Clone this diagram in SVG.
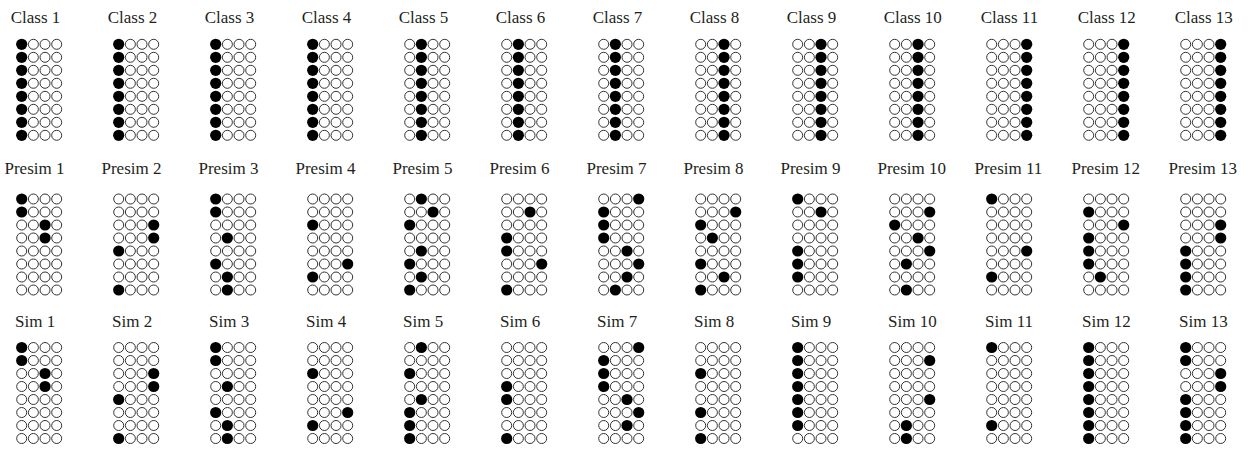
<svg xmlns="http://www.w3.org/2000/svg" width="1253" height="451" viewBox="0 0 1253 451" font-family="'Liberation Serif', 'Times New Roman', 'DejaVu Serif', serif">
<style>
text{font-family:'Liberation Serif','Times New Roman','DejaVu Serif',serif;font-size:17px;fill:#231f20}
.e{fill:#fff;stroke:#333;stroke-width:1}
.f{fill:#000}
</style>
<defs>
<circle id="o" class="e" r="5"/>
<circle id="x" class="f" r="5.6"/>
<g id="rn"><use href="#o"/><use href="#o" x="11.67"/><use href="#o" x="23.33"/><use href="#o" x="35"/></g>
<g id="r0"><use href="#x"/><use href="#o" x="11.67"/><use href="#o" x="23.33"/><use href="#o" x="35"/></g>
<g id="r1"><use href="#o"/><use href="#x" x="11.67"/><use href="#o" x="23.33"/><use href="#o" x="35"/></g>
<g id="r2"><use href="#o"/><use href="#o" x="11.67"/><use href="#x" x="23.33"/><use href="#o" x="35"/></g>
<g id="r3"><use href="#o"/><use href="#o" x="11.67"/><use href="#o" x="23.33"/><use href="#x" x="35"/></g>
<g id="c0"><use href="#r0"/><use href="#r0" y="13"/><use href="#r0" y="26"/><use href="#r0" y="39"/><use href="#r0" y="52"/><use href="#r0" y="65"/><use href="#r0" y="78"/><use href="#r0" y="91"/></g>
<g id="c1"><use href="#r1"/><use href="#r1" y="13"/><use href="#r1" y="26"/><use href="#r1" y="39"/><use href="#r1" y="52"/><use href="#r1" y="65"/><use href="#r1" y="78"/><use href="#r1" y="91"/></g>
<g id="c2"><use href="#r2"/><use href="#r2" y="13"/><use href="#r2" y="26"/><use href="#r2" y="39"/><use href="#r2" y="52"/><use href="#r2" y="65"/><use href="#r2" y="78"/><use href="#r2" y="91"/></g>
<g id="c3"><use href="#r3"/><use href="#r3" y="13"/><use href="#r3" y="26"/><use href="#r3" y="39"/><use href="#r3" y="52"/><use href="#r3" y="65"/><use href="#r3" y="78"/><use href="#r3" y="91"/></g>
</defs>
<g id="connectors"/>

<g id="class-1"><text x="10.7" y="23">Class 1</text><use href="#c0" x="21.7" y="44.3"/></g>
<g id="class-2"><text x="107.7" y="23">Class 2</text><use href="#c0" x="118.7" y="44.3"/></g>
<g id="class-3"><text x="204.7" y="23">Class 3</text><use href="#c0" x="215.7" y="44.3"/></g>
<g id="class-4"><text x="301.7" y="23">Class 4</text><use href="#c0" x="312.7" y="44.3"/></g>
<g id="class-5"><text x="398.7" y="23">Class 5</text><use href="#c1" x="409.7" y="44.3"/></g>
<g id="class-6"><text x="495.7" y="23">Class 6</text><use href="#c1" x="506.7" y="44.3"/></g>
<g id="class-7"><text x="592.7" y="23">Class 7</text><use href="#c1" x="603.7" y="44.3"/></g>
<g id="class-8"><text x="689.7" y="23">Class 8</text><use href="#c2" x="700.7" y="44.3"/></g>
<g id="class-9"><text x="786.7" y="23">Class 9</text><use href="#c2" x="797.7" y="44.3"/></g>
<g id="class-10"><text x="883.7" y="23">Class 10</text><use href="#c2" x="894.7" y="44.3"/></g>
<g id="class-11"><text x="980.7" y="23">Class 11</text><use href="#c3" x="991.7" y="44.3"/></g>
<g id="class-12"><text x="1077.7" y="23">Class 12</text><use href="#c3" x="1088.7" y="44.3"/></g>
<g id="class-13"><text x="1174.7" y="23">Class 13</text><use href="#c3" x="1185.7" y="44.3"/></g>

<g id="presim-1"><text x="4.5" y="174">Presim 1</text><g transform="translate(21.7,199)"><use href="#r0"/><use href="#r0" y="13"/><use href="#r2" y="26"/><use href="#r2" y="39"/><use href="#rn" y="52"/><use href="#rn" y="65"/><use href="#rn" y="78"/><use href="#rn" y="91"/></g></g>
<g id="presim-2"><text x="101.5" y="174">Presim 2</text><g transform="translate(118.7,199)"><use href="#rn"/><use href="#rn" y="13"/><use href="#r3" y="26"/><use href="#r3" y="39"/><use href="#r0" y="52"/><use href="#rn" y="65"/><use href="#rn" y="78"/><use href="#r0" y="91"/></g></g>
<g id="presim-3"><text x="198.5" y="174">Presim 3</text><g transform="translate(215.7,199)"><use href="#r0"/><use href="#r0" y="13"/><use href="#rn" y="26"/><use href="#r1" y="39"/><use href="#rn" y="52"/><use href="#r0" y="65"/><use href="#r1" y="78"/><use href="#r1" y="91"/></g></g>
<g id="presim-4"><text x="295.5" y="174">Presim 4</text><g transform="translate(312.7,199)"><use href="#rn"/><use href="#rn" y="13"/><use href="#r0" y="26"/><use href="#rn" y="39"/><use href="#rn" y="52"/><use href="#r3" y="65"/><use href="#r0" y="78"/><use href="#rn" y="91"/></g></g>
<g id="presim-5"><text x="392.5" y="174">Presim 5</text><g transform="translate(409.7,199)"><use href="#r1"/><use href="#r2" y="13"/><use href="#r0" y="26"/><use href="#rn" y="39"/><use href="#r1" y="52"/><use href="#r0" y="65"/><use href="#r1" y="78"/><use href="#r0" y="91"/></g></g>
<g id="presim-6"><text x="489.5" y="174">Presim 6</text><g transform="translate(506.7,199)"><use href="#rn"/><use href="#r2" y="13"/><use href="#rn" y="26"/><use href="#r0" y="39"/><use href="#r0" y="52"/><use href="#r3" y="65"/><use href="#rn" y="78"/><use href="#r0" y="91"/></g></g>
<g id="presim-7"><text x="586.5" y="174">Presim 7</text><g transform="translate(603.7,199)"><use href="#r3"/><use href="#r0" y="13"/><use href="#r0" y="26"/><use href="#r0" y="39"/><use href="#r2" y="52"/><use href="#r3" y="65"/><use href="#r2" y="78"/><use href="#r1" y="91"/></g></g>
<g id="presim-8"><text x="683.5" y="174">Presim 8</text><g transform="translate(700.7,199)"><use href="#rn"/><use href="#r3" y="13"/><use href="#r0" y="26"/><use href="#r1" y="39"/><use href="#rn" y="52"/><use href="#r0" y="65"/><use href="#r2" y="78"/><use href="#r0" y="91"/></g></g>
<g id="presim-9"><text x="780.5" y="174">Presim 9</text><g transform="translate(797.7,199)"><use href="#r0"/><use href="#r2" y="13"/><use href="#rn" y="26"/><use href="#rn" y="39"/><use href="#r0" y="52"/><use href="#r0" y="65"/><use href="#r0" y="78"/><use href="#rn" y="91"/></g></g>
<g id="presim-10"><text x="877.5" y="174">Presim 10</text><g transform="translate(894.7,199)"><use href="#rn"/><use href="#r3" y="13"/><use href="#r0" y="26"/><use href="#r2" y="39"/><use href="#r3" y="52"/><use href="#r1" y="65"/><use href="#rn" y="78"/><use href="#r1" y="91"/></g></g>
<g id="presim-11"><text x="974.5" y="174">Presim 11</text><g transform="translate(991.7,199)"><use href="#r0"/><use href="#rn" y="13"/><use href="#rn" y="26"/><use href="#rn" y="39"/><use href="#r3" y="52"/><use href="#rn" y="65"/><use href="#r0" y="78"/><use href="#rn" y="91"/></g></g>
<g id="presim-12"><text x="1071.5" y="174">Presim 12</text><g transform="translate(1088.7,199)"><use href="#rn"/><use href="#r0" y="13"/><use href="#r3" y="26"/><use href="#r0" y="39"/><use href="#r0" y="52"/><use href="#r0" y="65"/><use href="#r1" y="78"/><use href="#rn" y="91"/></g></g>
<g id="presim-13"><text x="1168.5" y="174">Presim 13</text><g transform="translate(1185.7,199)"><use href="#rn"/><use href="#rn" y="13"/><use href="#r3" y="26"/><use href="#r3" y="39"/><use href="#r0" y="52"/><use href="#r0" y="65"/><use href="#r0" y="78"/><use href="#r0" y="91"/></g></g>

<g id="sim-1"><text x="15" y="327">Sim 1</text><g transform="translate(21.7,347.5)"><use href="#r0"/><use href="#r0" y="13"/><use href="#r2" y="26"/><use href="#r2" y="39"/><use href="#rn" y="52"/><use href="#rn" y="65"/><use href="#rn" y="78"/><use href="#rn" y="91"/></g></g>
<g id="sim-2"><text x="112" y="327">Sim 2</text><g transform="translate(118.7,347.5)"><use href="#rn"/><use href="#rn" y="13"/><use href="#r3" y="26"/><use href="#r3" y="39"/><use href="#r0" y="52"/><use href="#rn" y="65"/><use href="#rn" y="78"/><use href="#r0" y="91"/></g></g>
<g id="sim-3"><text x="209" y="327">Sim 3</text><g transform="translate(215.7,347.5)"><use href="#r0"/><use href="#r0" y="13"/><use href="#rn" y="26"/><use href="#r1" y="39"/><use href="#rn" y="52"/><use href="#r0" y="65"/><use href="#r1" y="78"/><use href="#r1" y="91"/></g></g>
<g id="sim-4"><text x="306" y="327">Sim 4</text><g transform="translate(312.7,347.5)"><use href="#rn"/><use href="#rn" y="13"/><use href="#r0" y="26"/><use href="#rn" y="39"/><use href="#rn" y="52"/><use href="#r3" y="65"/><use href="#r0" y="78"/><use href="#rn" y="91"/></g></g>
<g id="sim-5"><text x="403" y="327">Sim 5</text><g transform="translate(409.7,347.5)"><use href="#r1"/><use href="#rn" y="13"/><use href="#r0" y="26"/><use href="#rn" y="39"/><use href="#r1" y="52"/><use href="#r0" y="65"/><use href="#r0" y="78"/><use href="#r0" y="91"/></g></g>
<g id="sim-6"><text x="500" y="327">Sim 6</text><g transform="translate(506.7,347.5)"><use href="#rn"/><use href="#rn" y="13"/><use href="#rn" y="26"/><use href="#r0" y="39"/><use href="#r0" y="52"/><use href="#rn" y="65"/><use href="#rn" y="78"/><use href="#r0" y="91"/></g></g>
<g id="sim-7"><text x="597" y="327">Sim 7</text><g transform="translate(603.7,347.5)"><use href="#r3"/><use href="#r0" y="13"/><use href="#r0" y="26"/><use href="#r0" y="39"/><use href="#r2" y="52"/><use href="#r3" y="65"/><use href="#r2" y="78"/><use href="#rn" y="91"/></g></g>
<g id="sim-8"><text x="694" y="327">Sim 8</text><g transform="translate(700.7,347.5)"><use href="#rn"/><use href="#rn" y="13"/><use href="#r0" y="26"/><use href="#rn" y="39"/><use href="#rn" y="52"/><use href="#r0" y="65"/><use href="#rn" y="78"/><use href="#r0" y="91"/></g></g>
<g id="sim-9"><text x="791" y="327">Sim 9</text><g transform="translate(797.7,347.5)"><use href="#r0"/><use href="#r0" y="13"/><use href="#r0" y="26"/><use href="#r0" y="39"/><use href="#r0" y="52"/><use href="#r0" y="65"/><use href="#r0" y="78"/><use href="#rn" y="91"/></g></g>
<g id="sim-10"><text x="888" y="327">Sim 10</text><g transform="translate(894.7,347.5)"><use href="#rn"/><use href="#r3" y="13"/><use href="#rn" y="26"/><use href="#rn" y="39"/><use href="#r3" y="52"/><use href="#rn" y="65"/><use href="#r1" y="78"/><use href="#r1" y="91"/></g></g>
<g id="sim-11"><text x="985" y="327">Sim 11</text><g transform="translate(991.7,347.5)"><use href="#r0"/><use href="#rn" y="13"/><use href="#rn" y="26"/><use href="#rn" y="39"/><use href="#rn" y="52"/><use href="#rn" y="65"/><use href="#r0" y="78"/><use href="#rn" y="91"/></g></g>
<g id="sim-12"><text x="1082" y="327">Sim 12</text><g transform="translate(1088.7,347.5)"><use href="#r0"/><use href="#r0" y="13"/><use href="#r0" y="26"/><use href="#r0" y="39"/><use href="#r0" y="52"/><use href="#r0" y="65"/><use href="#r0" y="78"/><use href="#r0" y="91"/></g></g>
<g id="sim-13"><text x="1179" y="327">Sim 13</text><g transform="translate(1185.7,347.5)"><use href="#r0"/><use href="#r0" y="13"/><use href="#r3" y="26"/><use href="#r3" y="39"/><use href="#r0" y="52"/><use href="#r0" y="65"/><use href="#r0" y="78"/><use href="#r0" y="91"/></g></g>
</svg>
